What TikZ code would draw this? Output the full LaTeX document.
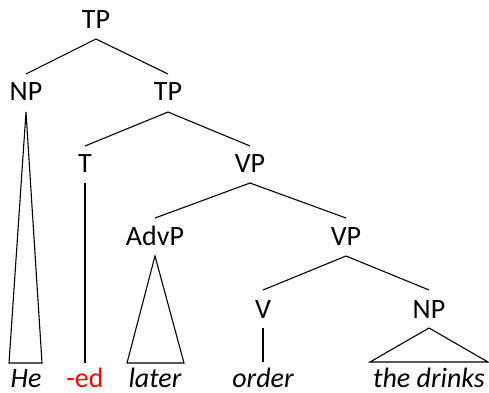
\documentclass[tikz,border=0pt]{standalone}
\usepackage{fontspec}
\setmainfont{Carlito}
\begin{document}
\begin{tikzpicture}[x=1pt,y=-1pt,
  lab/.style={anchor=base,inner sep=0pt,font=\fontsize{28}{32}\selectfont},
  wrd/.style={lab,font=\fontsize{28}{32}\selectfont\itshape},
  br/.style={line width=1.1pt,line join=miter}]
\useasboundingbox (0,0) rectangle (489,392);
\node[lab] (tp) at (96,28) {TP};
\node[lab] (np) at (26,100) {NP};
\node[lab] (tpb) at (168,100) {TP};
\node[lab] (t) at (85,172) {T};
\node[lab] (vp) at (250,172) {VP};
\node[lab] (advp) at (155,245) {AdvP};
\node[lab] (vpb) at (346,245) {VP};
\node[lab] (v) at (263,318) {V};
\node[lab] (npb) at (429,318) {NP};
\node[wrd] (he) at (26,387) {He};
\node[lab,text=red] (ed) at (85,387) {-ed};
\node[wrd] (later) at (155,387) {later};
\node[wrd] (order) at (263,387) {order};
\node[wrd] (drinks) at (429,387) {the drinks};
% branches
\draw[br] ([yshift=26pt]np.base) -- ([yshift=-11pt]tp.base) -- ([yshift=26pt]tpb.base);
\draw[br] ([yshift=26pt]t.base) -- ([yshift=-12pt]tpb.base) -- ([yshift=26pt]vp.base);
\draw[br] ([yshift=27pt]advp.base) -- ([yshift=-11pt]vp.base) -- ([yshift=27pt]vpb.base);
\draw[br] ([yshift=28pt]v.base) -- ([yshift=-11pt]vpb.base) -- ([yshift=28pt]npb.base);
\draw[br] ([yshift=-11pt]t.base) -- ([yshift=24pt]ed.base);
\draw[br] ([yshift=-10pt]v.base) -- ([yshift=25pt]order.base);
% triangles
\draw[br] ([yshift=-12pt]np.base) -- ([xshift=-17pt,yshift=24pt]he.base) -- ([xshift=16pt,yshift=24pt]he.base) -- cycle;
\draw[br] ([yshift=-11pt]advp.base) -- ([xshift=-28pt,yshift=24pt]later.base) -- ([xshift=29pt,yshift=24pt]later.base) -- cycle;
\draw[br] ([yshift=-10pt]npb.base) -- ([xshift=-59pt,yshift=25pt]drinks.base) -- ([xshift=59pt,yshift=25pt]drinks.base) -- cycle;
\end{tikzpicture}
\end{document}
